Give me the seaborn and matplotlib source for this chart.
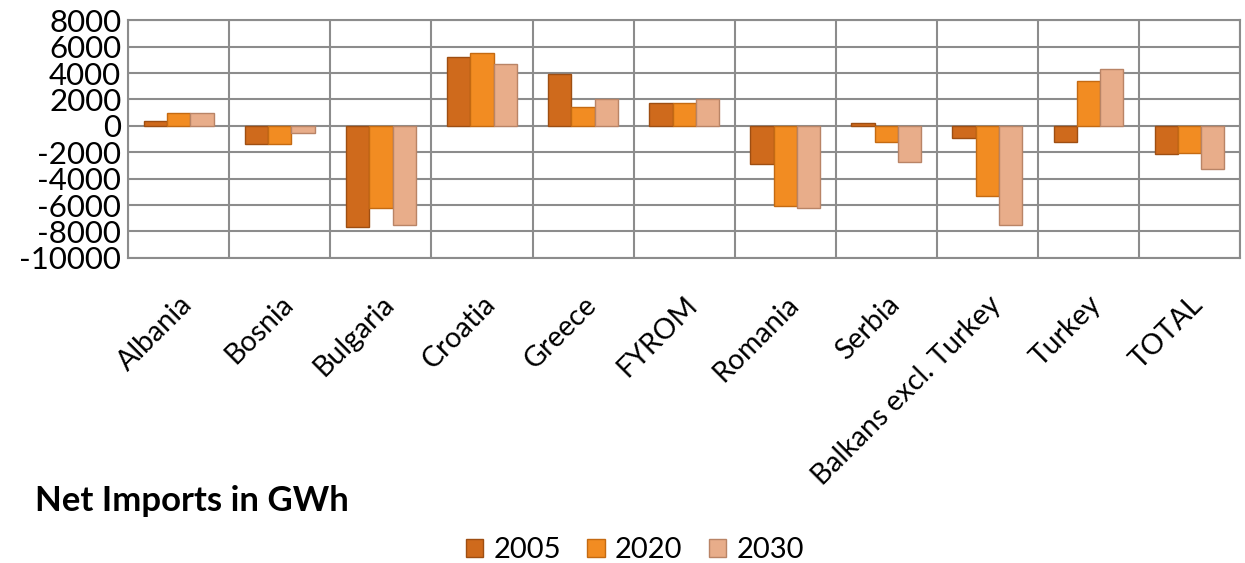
import matplotlib
matplotlib.use("Agg")
import matplotlib.pyplot as plt
import seaborn as sns
import pandas as pd
import numpy as np
from matplotlib.patches import Patch

categories = ["Albania", "Bosnia", "Bulgaria", "Croatia", "Greece", "FYROM",
              "Romania", "Serbia", "Balkans excl. Turkey", "Turkey", "TOTAL"]
years = ["2005", "2020", "2030"]
v2005 = [350, -1350, -7700, 5250, 3900, 1750, -2900, 200, -900, -1200, -2100]
v2020 = [1000, -1350, -6200, 5550, 1450, 1750, -6050, -1200, -5300, 3400, -2050]
v2030 = [1000, -550, -7500, 4650, 2050, 2050, -6200, -2750, -7500, 4300, -3300]
yticks = list(range(-10000, 8001, 2000))

colors = ["#CF6A1C", "#F28C22", "#E8AD8A"]
edges = ["#9E4E12", "#C46A12", "#B98466"]

df = pd.DataFrame({
    "country": categories * 3,
    "year": [y for y in years for _ in categories],
    "value": v2005 + v2020 + v2030,
})

sns.set_theme(style="white")
plt.rcParams["font.family"] = ["Lato", "DejaVu Sans"]
plt.rcParams["text.color"] = "black"
plt.rcParams["xtick.color"] = "black"
plt.rcParams["ytick.color"] = "black"

fig = plt.figure(figsize=(12.45, 5.63), dpi=100)
ax = fig.add_axes([0.103, 0.542, 0.893, 0.422])

sns.barplot(data=df, x="country", y="value", hue="year", order=categories,
            hue_order=years, palette=colors, width=0.69, ax=ax,
            legend=False, saturation=1)

for i, cont in enumerate(ax.containers):
    for bar in cont:
        bar.set_edgecolor(edges[i])
        bar.set_linewidth(1.0)
        bar.set_zorder(3)

ax.set_ylim(-10000, 8000)
ax.set_xlim(-0.5, len(categories) - 0.5)
ax.set_yticks(yticks)
ax.set_yticklabels([str(t) for t in yticks], fontsize=22.5)
ax.set_xticks(range(len(categories)))
ax.set_xticklabels(categories, rotation=45, ha="right", rotation_mode="anchor",
                   fontsize=20.5)
ax.tick_params(axis="y", length=0, pad=5, labelcolor="black")
ax.tick_params(axis="x", length=0, pad=24, labelcolor="black")
ax.set_xticks(np.arange(-0.5, len(categories), 1), minor=True)
ax.tick_params(axis="x", which="minor", length=0)
ax.grid(axis="y", which="major", color="#8C8C8C", linewidth=1.5, zorder=0)
ax.grid(axis="x", which="minor", color="#8C8C8C", linewidth=1.5, zorder=0)
ax.grid(axis="x", which="major", visible=False)
ax.set_axisbelow(True)
for s in ax.spines.values():
    s.set_color("#8C8C8C")
    s.set_linewidth(1.5)
ax.set_xlabel("")
ax.set_ylabel("")

fig.text(0.028, 0.11, "Net Imports in GWh", fontsize=25, fontweight="bold",
         ha="left", va="center", color="black")

handles = [Patch(facecolor=c, edgecolor=e) for c, e in zip(colors, edges)]
fig.legend(handles, years, loc="center", bbox_to_anchor=(0.51, 0.023), ncol=3,
           frameon=False, fontsize=21, handlelength=0.6, handleheight=0.6,
           handletextpad=0.35, columnspacing=0.9, borderpad=0)

fig.savefig("out.png", dpi=100)
